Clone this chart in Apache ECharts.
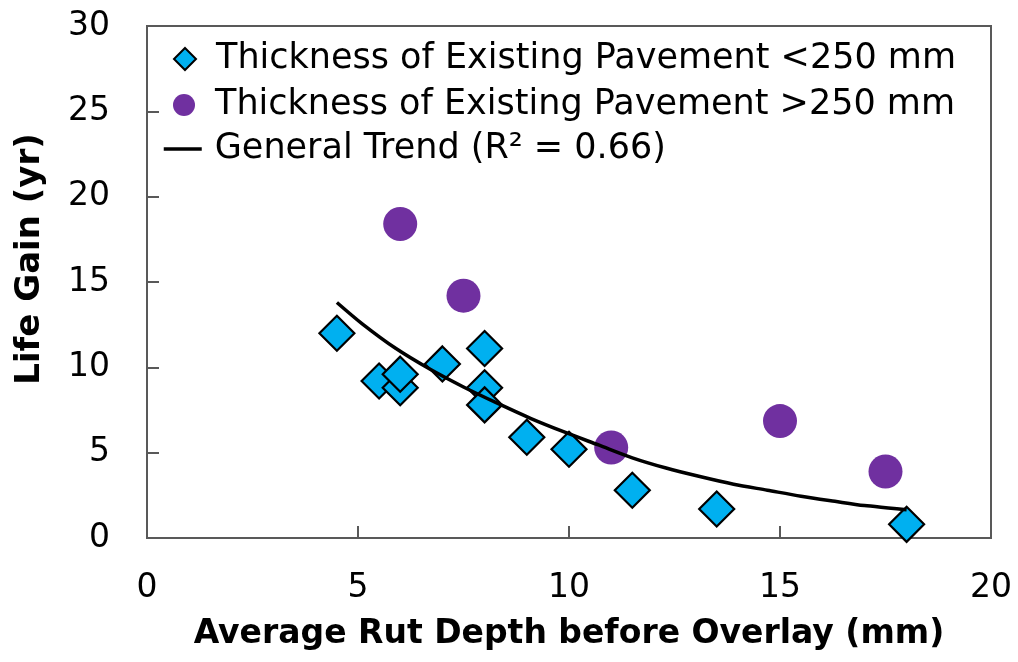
<!DOCTYPE html>
<html>
<head>
<meta charset="utf-8">
<script src="https://cdn.jsdelivr.net/npm/echarts@6/dist/echarts.min.js"></script>
<style>
html,body{margin:0;padding:0;background:#fff;}
#chart{width:1018px;height:662px;}
</style>
</head>
<body>
<div id="chart"></div>
<script>
// Data
const thinX = [4.5, 5.5, 6, 6, 7, 8, 8, 8, 9, 10, 11.5, 13.5, 18];
const thinY = [12, 9.2, 8.8, 9.6, 10.2, 11.1, 8.8, 7.8, 5.9, 5.2, 2.8, 1.7, 0.8];
const thickX = [6, 7.5, 11, 15, 17.5];
const thickY = [18.4, 14.2, 5.3, 6.85, 3.9];
const trendX = [4.5, 5.1, 5.9, 6.7, 7.5, 8.3, 9.1, 9.9, 10.7, 11.5, 12.3, 13.1, 13.9, 14.7, 15.5, 16.3, 17.0, 18.0];
const trendY = [13.8, 12.55, 11.1, 9.9, 8.85, 7.9, 7.0, 6.2, 5.45, 4.7, 4.1, 3.6, 3.15, 2.8, 2.45, 2.15, 1.9, 1.65];
const xTicks = [0, 5, 10, 15, 20];
const yTicks = [0, 5, 10, 15, 20, 25, 30];

const seriesNames = [
  'Thickness of Existing Pavement <250 mm',
  'Thickness of Existing Pavement >250 mm',
  'General Trend (R² = 0.66)'
];

const zip = (xs, ys) => xs.map((x, i) => [x, ys[i]]);
const FONT = 'DejaVu Sans';
const legendText = (padLeft) => ({fontFamily: FONT, fontSize: 35, color: '#000', lineHeight: 36, padding: [0, 0, 0, padLeft]});

const chart = echarts.init(document.getElementById('chart'), null, {renderer: 'canvas'});
chart.setOption({
  animation: false,
  backgroundColor: '#ffffff',
  textStyle: {fontFamily: FONT, color: '#000'},
  grid: {
    left: 147, right: 27, top: 26, bottom: 124,
    show: true, borderColor: '#595959', borderWidth: 2, backgroundColor: 'transparent'
  },
  legend: [
    {
      data: [{name: seriesNames[0], icon: 'diamond'}],
      left: 173, top: 41, padding: 0,
      itemWidth: 22, itemHeight: 22,
      textStyle: legendText(15),
      selectedMode: false
    },
    {
      data: [{name: seriesNames[1], icon: 'circle'}],
      left: 173, top: 87, padding: 0,
      itemWidth: 22, itemHeight: 22,
      textStyle: legendText(15),
      selectedMode: false
    },
    {
      data: [{name: seriesNames[2], itemStyle: {opacity: 0}}],
      left: 162, top: 131, padding: 0,
      itemWidth: 38, itemHeight: 14,
      lineStyle: {width: 3.5, color: '#000'},
      textStyle: legendText(8),
      selectedMode: false
    }
  ],
  xAxis: {
    type: 'value', min: xTicks[0], max: xTicks[xTicks.length - 1], interval: 5,
    name: 'Average Rut Depth before Overlay (mm)',
    nameLocation: 'middle', nameGap: 80,
    nameTextStyle: {fontFamily: FONT, fontSize: 33, fontWeight: 'bold', color: '#000'},
    axisLine: {show: true, lineStyle: {color: '#595959', width: 2}},
    axisTick: {show: true, inside: true, length: 12, lineStyle: {color: '#595959', width: 2}},
    axisLabel: {fontFamily: FONT, fontSize: 33, color: '#000', margin: 34},
    splitLine: {show: false}
  },
  yAxis: {
    type: 'value', min: yTicks[0], max: yTicks[yTicks.length - 1], interval: 5,
    name: 'Life Gain (yr)',
    nameLocation: 'middle', nameGap: 100, nameRotate: 90,
    nameTextStyle: {fontFamily: FONT, fontSize: 34, fontWeight: 'bold', color: '#000', padding: [0, 0, 0, 46]},
    axisLine: {show: true, lineStyle: {color: '#595959', width: 2}},
    axisTick: {show: true, inside: true, length: 12, lineStyle: {color: '#595959', width: 2}},
    axisLabel: {fontFamily: FONT, fontSize: 33, color: '#000', margin: 37},
    splitLine: {show: false}
  },
  series: [
    {
      name: seriesNames[0], type: 'scatter', symbol: 'diamond', symbolSize: 35,
      itemStyle: {color: '#00B0F0', borderColor: '#000', borderWidth: 2.2, opacity: 1},
      data: zip(thinX, thinY), z: 3
    },
    {
      name: seriesNames[1], type: 'scatter', symbol: 'circle', symbolSize: 34,
      itemStyle: {color: '#7030A0', opacity: 1},
      data: zip(thickX, thickY), z: 2
    },
    {
      name: seriesNames[2], type: 'line', smooth: 0.3, showSymbol: false, symbol: 'none',
      lineStyle: {color: '#000', width: 3.5},
      itemStyle: {color: '#000'},
      data: zip(trendX, trendY), z: 4
    }
  ]
});
</script>
</body>
</html>
